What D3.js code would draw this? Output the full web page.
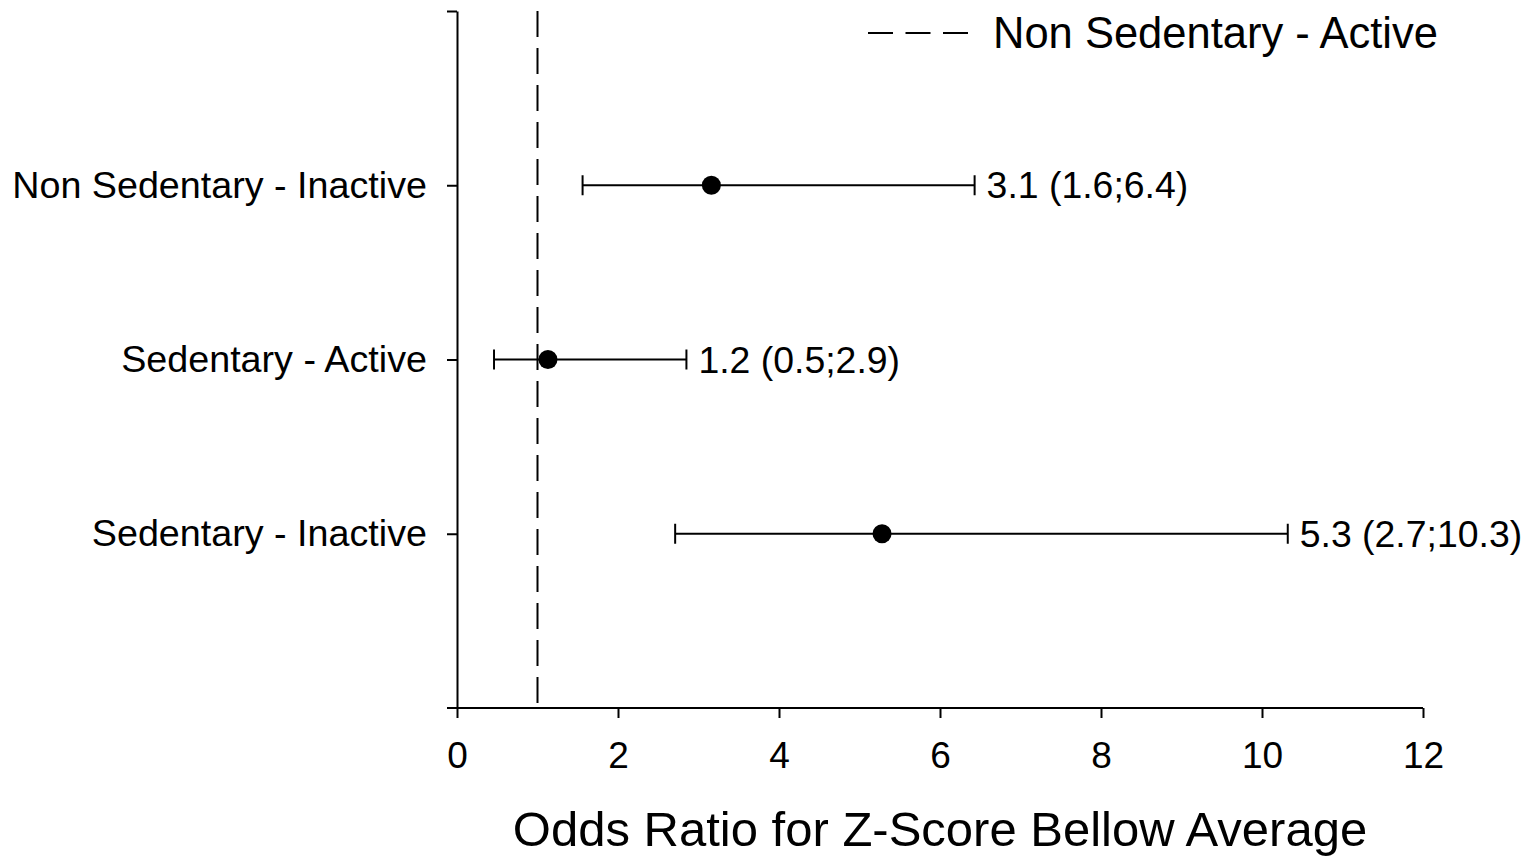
<!DOCTYPE html>
<html lang="en">
<head>
	<meta charset="UTF-8">
	<title>Odds Ratio</title>
	<style>
		body { margin:0; background:#fff; }
		svg text { font-family:"Liberation Sans", Arial, sans-serif; fill:#000; }
	</style>
</head>
<body>
	<svg></svg>
	<script src="https://d3js.org/d3.v7.min.js"></script>
	<script>
		// data (bottom to top)
		var groups = ["Sedentary - Inactive", "Sedentary - Active", "Non Sedentary - Inactive"];
		var oddsRatio = [5.28, 1.13, 3.16];
		var ciLow = [2.71, 0.46, 1.56];
		var ciHigh = [10.32, 2.85, 6.43];
		var labels = ["5.3 (2.7;10.3)", "1.2 (0.5;2.9)", "3.1 (1.6;6.4)"];
		var refValue = 1;
		var refName = "Non Sedentary - Active";
		var xTicks = [0, 2, 4, 6, 8, 10, 12];

		var width = 1535, height = 856;
		var marge = {top:11, bottom:148, left:457, right:112};

		var svg = d3.select("svg")
			.attr("width", width)
			.attr("height", height);

		var x = d3.scaleLinear()
			.domain([0, 12])
			.range([marge.left, width - marge.right]);

		var y = d3.scaleLinear()
			.domain([0, groups.length + 1])
			.range([height - marge.bottom, marge.top]);

		// x axis
		var xAxis = svg.append("g")
			.attr("transform", "translate(0," + y(0) + ")")
			.call(d3.axisBottom(x).tickValues(xTicks).tickSize(10).tickSizeOuter(0).tickPadding(24));
		xAxis.select(".domain").remove();
		xAxis.append("line")
			.attr("x1", x(0) - 10).attr("x2", x(12))
			.attr("stroke", "#000").attr("stroke-width", 2);
		xAxis.selectAll(".tick line").attr("stroke-width", 2);
		xAxis.selectAll("text")
			.attr("font-size", "37px")
			.attr("fill", "#000");

		// y axis
		var yAxis = svg.append("g")
			.attr("transform", "translate(" + x(0) + ",0)")
			.call(d3.axisLeft(y)
				.tickValues(d3.range(1, groups.length + 2))
				.tickSize(10).tickSizeOuter(0).tickPadding(20)
				.tickFormat(function(d){ return groups[d - 1] || ""; }));
		yAxis.select(".domain").attr("stroke-width", 2);
		yAxis.selectAll(".tick line").attr("stroke-width", 2);
		yAxis.selectAll("text")
			.attr("font-size", "37.7px")
			.attr("fill", "#000");

		// reference line
		svg.append("line")
			.attr("x1", x(refValue)).attr("x2", x(refValue))
			.attr("y1", y(groups.length + 1)).attr("y2", y(0))
			.attr("stroke", "#000")
			.attr("stroke-width", 2)
			.attr("stroke-dasharray", "26,11");

		// error bars
		var rows = svg.append("g")
			.selectAll("g")
			.data(groups)
			.enter()
			.append("g")
			.attr("transform", function(d, i){ return "translate(0," + y(i + 1) + ")"; });

		rows.append("line")
			.attr("x1", function(d, i){ return x(ciLow[i]); })
			.attr("x2", function(d, i){ return x(ciHigh[i]); })
			.attr("stroke", "#000").attr("stroke-width", 2);

		rows.append("line")
			.attr("x1", function(d, i){ return x(ciLow[i]); })
			.attr("x2", function(d, i){ return x(ciLow[i]); })
			.attr("y1", -10).attr("y2", 10)
			.attr("stroke", "#000").attr("stroke-width", 2);

		rows.append("line")
			.attr("x1", function(d, i){ return x(ciHigh[i]); })
			.attr("x2", function(d, i){ return x(ciHigh[i]); })
			.attr("y1", -10).attr("y2", 10)
			.attr("stroke", "#000").attr("stroke-width", 2);

		rows.append("circle")
			.attr("cx", function(d, i){ return x(oddsRatio[i]); })
			.attr("r", 9.5)
			.attr("fill", "#000");

		rows.append("text")
			.attr("x", function(d, i){ return x(ciHigh[i]) + 12; })
			.attr("dy", "0.35em")
			.attr("font-size", "37.4px")
			.text(function(d, i){ return labels[i]; });

		// axis title
		svg.append("text")
			.attr("x", (x(0) + x(12)) / 2)
			.attr("y", 846)
			.attr("text-anchor", "middle")
			.attr("font-size", "49px")
			.text("Odds Ratio for Z-Score Bellow Average");

		// legend
		var legend = svg.append("g")
			.attr("transform", "translate(868,33)");
		legend.append("line")
			.attr("x1", 0).attr("x2", 100)
			.attr("stroke", "#000")
			.attr("stroke-width", 2)
			.attr("stroke-dasharray", "25,12.5");
		legend.append("text")
			.attr("x", 125)
			.attr("dy", "0.35em")
			.attr("font-size", "43.5px")
			.text(refName);
	</script>
</body>
</html>
